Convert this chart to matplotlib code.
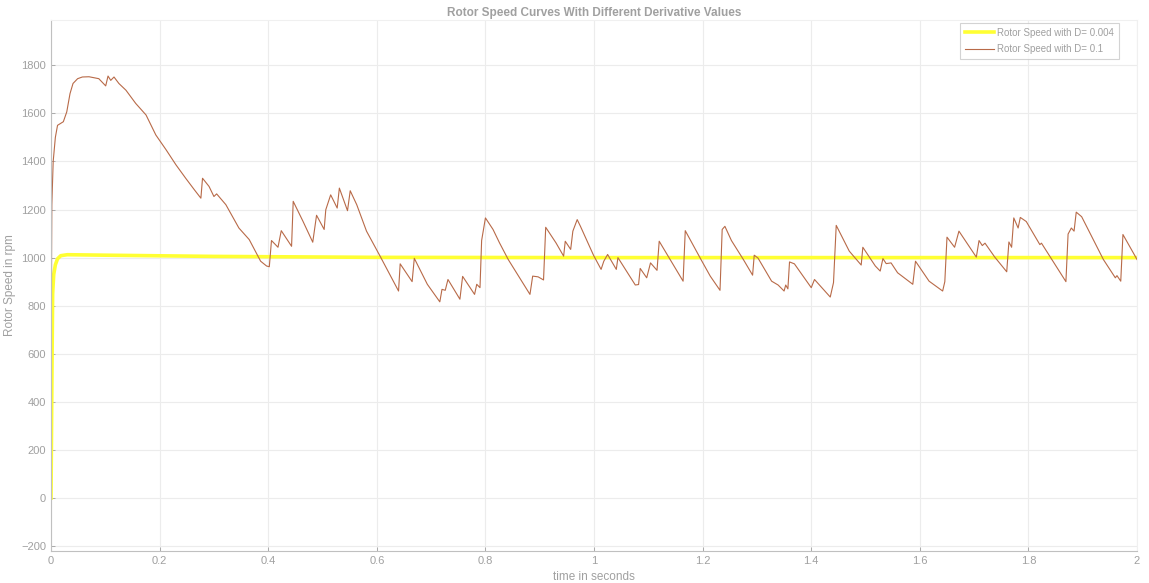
import matplotlib
matplotlib.use("Agg")
import matplotlib.pyplot as plt

plt.rcParams["font.family"] = ["Liberation Sans", "DejaVu Sans"]

# D = 0.004 : smooth response settling at 1000 rpm
t_smooth = [0, 0.001, 0.002, 0.003, 0.005, 0.008, 0.012, 0.018, 0.03, 0.1, 0.3, 0.6, 1.0, 2.0]
speed_smooth = [0, 300, 600, 850, 930, 970, 995, 1008, 1012, 1010, 1005, 1001, 1000, 1000]

# D = 0.1 : oscillating response
t_osc = [0, 0.0005, 0.001, 0.0015, 0.004, 0.008, 0.012, 0.0227, 0.029, 0.035, 0.0405, 0.049,
         0.0577, 0.07, 0.088, 0.1007, 0.105, 0.11, 0.116, 0.125, 0.138, 0.156, 0.175,
         0.193, 0.212, 0.23, 0.248, 0.264, 0.276, 0.279, 0.291, 0.3, 0.305, 0.322,
         0.346, 0.365, 0.386, 0.397, 0.402, 0.406, 0.418, 0.424, 0.443, 0.446, 0.464,
         0.482, 0.489, 0.503, 0.506, 0.515, 0.527, 0.531, 0.546, 0.551, 0.563, 0.581,
         0.606, 0.640, 0.643, 0.665, 0.669, 0.693, 0.716, 0.72, 0.726, 0.731, 0.753,
         0.758, 0.780, 0.784, 0.790, 0.793, 0.800, 0.814, 0.826, 0.842, 0.882, 0.887,
         0.897, 0.907, 0.911, 0.930, 0.944, 0.947, 0.957, 0.961, 0.969, 0.975, 0.999,
         1.013, 1.018, 1.025, 1.041, 1.044, 1.076, 1.082, 1.085, 1.097, 1.104, 1.116,
         1.12, 1.164, 1.168, 1.196, 1.214, 1.232, 1.236, 1.241, 1.253, 1.275, 1.292,
         1.295, 1.302, 1.327, 1.339, 1.35, 1.353, 1.357, 1.360, 1.369, 1.400, 1.406,
         1.435, 1.441, 1.446, 1.470, 1.492, 1.495, 1.518, 1.527, 1.532, 1.538, 1.547,
         1.559, 1.587, 1.592, 1.617, 1.642, 1.646, 1.650, 1.664, 1.672, 1.704, 1.709,
         1.715, 1.720, 1.738, 1.760, 1.764, 1.769, 1.773, 1.781, 1.785, 1.796, 1.821,
         1.824, 1.869, 1.873, 1.879, 1.884, 1.888, 1.898, 1.938, 1.960, 1.963, 1.970,
         1.974, 2.0]
speed_osc = [0, 600, 1000, 1220, 1400, 1500, 1550, 1565, 1606, 1682, 1724, 1744,
             1751, 1752, 1744, 1714, 1755, 1737, 1751, 1724, 1696, 1641, 1593,
             1510, 1448, 1386, 1330, 1282, 1247, 1330, 1296, 1254, 1265, 1220,
             1123, 1075, 985, 965, 962, 1071, 1043, 1112, 1047, 1234, 1151,
             1064, 1176, 1117, 1199, 1261, 1206, 1289, 1195, 1278, 1220, 1110,
             1006, 861, 974, 900, 997, 889, 816, 868, 864, 909, 827,
             922, 847, 889, 875, 1071, 1165, 1117, 1061, 992, 847, 923,
             920, 907, 1126, 1061, 1006, 1068, 1034, 1110, 1158, 1130, 1010,
             951, 985, 1013, 951, 1000, 886, 888, 955, 916, 978, 947,
             1068, 902, 1112, 996, 923, 864, 1117, 1130, 1071, 992, 927,
             1010, 998, 902, 886, 861, 886, 870, 982, 974, 875, 909,
             836, 896, 1134, 1027, 969, 1043, 965, 944, 996, 975, 978,
             937, 889, 985, 902, 861, 900, 1085, 1043, 1110, 1002, 1071,
             1050, 1060, 1002, 941, 1065, 1043, 1165, 1123, 1167, 1150, 1054,
             1060, 900, 1098, 1123, 1110, 1189, 1170, 992, 916, 925, 902,
             1096, 992]

fig = plt.figure(figsize=(11.49, 5.83), dpi=100)
ax = fig.add_axes([0.0444, 0.0549, 0.9452, 0.9108])

ax.plot(t_smooth, speed_smooth, color="#FFFF33", linewidth=2.6,
        label="Rotor Speed with D= 0.004")
ax.plot(t_osc, speed_osc, color="#B86A48", linewidth=0.8,
        label="Rotor Speed with D= 0.1")

ax.set_xlim(0, 2)
ax.set_ylim(-220, 1988)
ax.set_xticks([0, 0.2, 0.4, 0.6, 0.8, 1, 1.2, 1.4, 1.6, 1.8, 2])
ax.set_xticklabels(["0", "0.2", "0.4", "0.6", "0.8", "1", "1.2", "1.4", "1.6", "1.8", "2"])
ax.set_yticks(range(-200, 1801, 200))

grey = "#a0a0a0"
ax.grid(True, color="#ececec", linewidth=0.8)
ax.tick_params(colors=grey, labelsize=8, length=3, width=0.6, direction="in")
for side in ["left", "bottom"]:
    ax.spines[side].set_color("#c0c0c0")
for side in ["top", "right"]:
    ax.spines[side].set_color("#f0f0f0")

ax.set_title("Rotor Speed Curves With Different Derivative Values",
             color=grey, fontsize=8.5, fontweight="bold", pad=3)
ax.set_xlabel("time in seconds", color=grey, fontsize=8.5, labelpad=4)
ax.set_ylabel("Rotor Speed in rpm", color=grey, fontsize=8.5, labelpad=4)

leg = ax.legend(loc="upper right", bbox_to_anchor=(0.9834, 0.9944), borderaxespad=0,
                fontsize=7, frameon=True, fancybox=False, edgecolor="#c8c8c8",
                handlelength=3.0, handletextpad=0.3, labelspacing=0.65,
                borderpad=0.5, labelcolor=grey)
leg.get_frame().set_linewidth(0.8)

fig.savefig("out.png", dpi=100)
